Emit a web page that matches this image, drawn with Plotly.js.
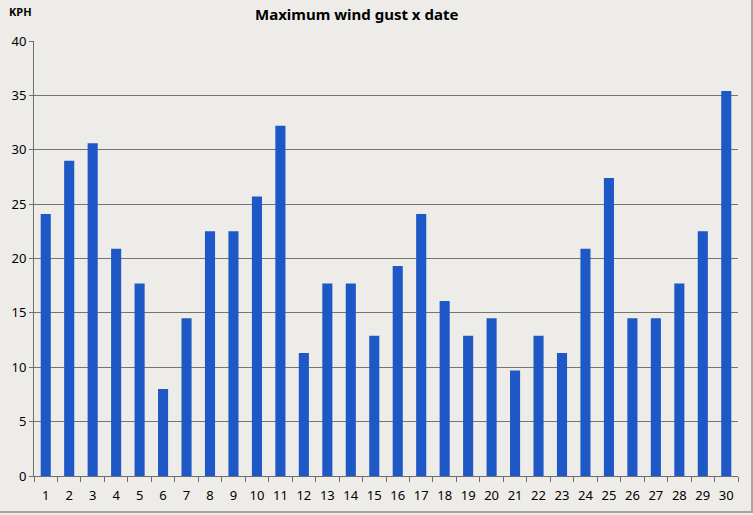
<!DOCTYPE html>
<html>
<head>
<meta charset="utf-8">
<script src="https://cdn.plot.ly/plotly-3.0.1.min.js"></script>
<style>
  html, body { margin: 0; padding: 0; background: #eeece9; }
  #wrap { width: 751px; height: 511px; border-right: 2px solid #a8a6a3; border-bottom: 2px solid #a8a6a3; }
</style>
</head>
<body>
<div id="wrap"><div id="chart" style="width:751px;height:511px;"></div></div>
<script>
// days of the month and max gust in KPH
const days = ['1','2','3','4','5','6','7','8','9','10','11','12','13','14','15',
  '16','17','18','19','20','21','22','23','24','25','26','27','28','29','30'];
const gustKph = [24.1, 29.0, 30.6, 20.9, 17.7, 8.0, 14.5, 22.5, 22.5, 25.7, 32.2, 11.3, 17.7, 17.7, 12.9,
  19.3, 24.1, 16.1, 12.9, 14.5, 9.7, 12.9, 11.3, 20.9, 27.4, 14.5, 14.5, 17.7, 22.5, 35.4];
const yTicks = [0, 5, 10, 15, 20, 25, 30, 35, 40];

const font = 'Noto Sans, Open Sans, sans-serif';

Plotly.newPlot('chart', [{
  x: days,
  y: gustKph,
  type: 'bar',
  marker: { color: '#1e58c6' },
  hoverinfo: 'x+y'
}], {
  width: 751,
  height: 511,
  margin: { l: 34, r: 13, t: 41, b: 35 },
  paper_bgcolor: '#eeece9',
  plot_bgcolor: '#eeece9',
  bargap: 0.57,
  showlegend: false,
  title: {
    text: '<b>Maximum wind gust x date</b>',
    font: { family: font, size: 15, color: '#000' },
    x: 0.475, xanchor: 'center', y: 0.972, yanchor: 'middle'
  },
  xaxis: {
    type: 'category',
    tickson: 'boundaries',
    tickangle: 0,
    ticklabelstandoff: 7,
    ticks: 'outside', ticklen: 5, tickcolor: '#6e6e6e',
    showline: true, linecolor: '#6e6e6e', linewidth: 1,
    showgrid: false,
    tickfont: { family: font, size: 13, color: '#000' }
  },
  yaxis: {
    range: [0, 40],
    tickvals: yTicks,
    ticks: 'outside', ticklen: 4, tickcolor: '#6e6e6e',
    showline: true, linecolor: '#6e6e6e', linewidth: 1,
    gridcolor: '#747474', gridwidth: 1,
    zeroline: false,
    tickfont: { family: font, size: 13, color: '#000' }
  },
  annotations: [{
    text: '<b>KPH</b>', xref: 'paper', yref: 'paper',
    x: -0.038, y: 1.045, xanchor: 'left', yanchor: 'bottom', showarrow: false,
    font: { family: font, size: 11, color: '#000' }
  }]
}, { displayModeBar: false, staticPlot: true });
</script>
</body>
</html>
